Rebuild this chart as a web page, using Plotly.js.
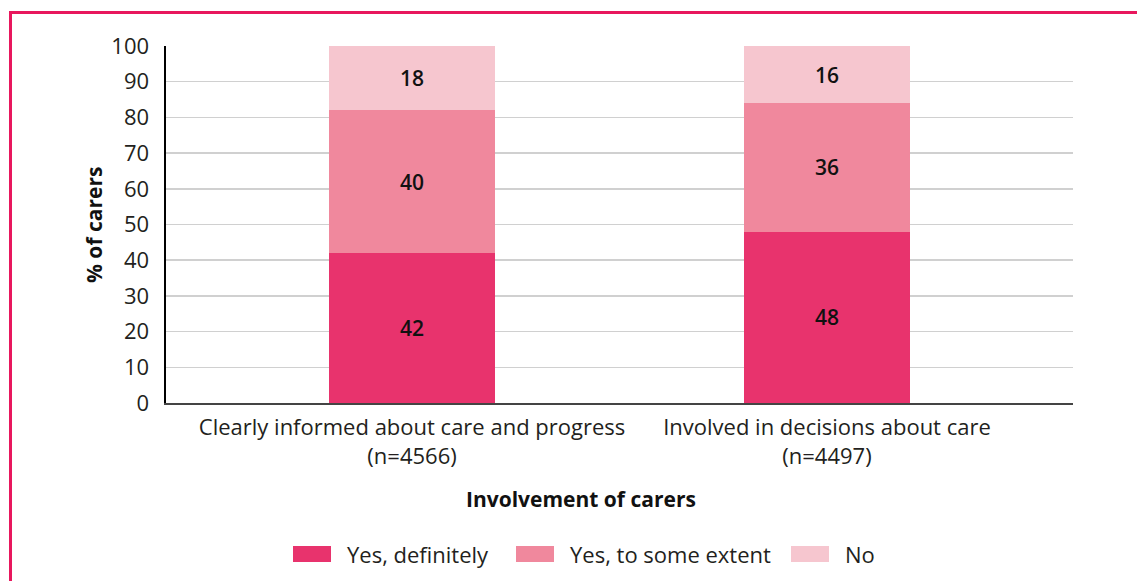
<!DOCTYPE html>
<html><head><meta charset="utf-8">
<script src="https://cdn.plot.ly/plotly-3.0.1.min.js"></script>
<style>
html,body{margin:0;padding:0;background:#fff;overflow:hidden;}
#frame{position:absolute;left:9px;top:11px;width:1300px;height:800px;border:3px solid #E8175D;box-sizing:border-box;}
#chart{position:absolute;left:0;top:0;width:1137px;height:581px;}
</style></head>
<body>
<div id="frame"></div>
<div id="chart"></div>
<script>
const categories = ["Clearly informed about care and progress<br>(n=4566)", "Involved in decisions about care<br>(n=4497)"];
const seriesNames = ["Yes, definitely", "Yes, to some extent", "No"];
const yesDefinitely = [42, 48];
const yesSomeExtent = [40, 36];
const no = [18, 16];
const colors = ["#E8336D", "#F0889D", "#F6C6CF"];
const seriesValues = [yesDefinitely, yesSomeExtent, no];

const FONT = '"Open Sans", sans-serif';
const xIdx = categories.map((c, i) => i);

const traces = seriesValues.map((vals, k) => ({
  type: 'bar', x: xIdx, y: vals, name: seriesNames[k],
  marker: {color: colors[k], line: {width: 0}},
  width: 0.4,
  text: vals.map(String), textposition: 'inside', insidetextanchor: 'middle',
  constraintext: 'none',
  textfont: {family: FONT, size: 21, color: '#111', weight: 600},
  hoverinfo: 'skip', showlegend: false
}));

// custom legend (layout shapes + annotations)
const L = 166, W = 907, T = 46, H = 357;
const px = x => (x - L) / W;
const py = y => (T + H - y) / H;
const swatchX = [293, 516, 791];
const shapes = [];
const annotations = [];
seriesNames.forEach((n, k) => {
  shapes.push({type: 'rect', xref: 'paper', yref: 'paper',
    x0: px(swatchX[k]), x1: px(swatchX[k] + 38), y0: py(562), y1: py(546),
    fillcolor: colors[k], line: {width: 0}});
  annotations.push({xref: 'paper', yref: 'paper', x: px(swatchX[k] + 52), y: py(554),
    xanchor: 'left', yanchor: 'middle', showarrow: false, text: n,
    font: {family: FONT, size: 22, color: '#231F20'}});
});
annotations.push({xref: 'paper', yref: 'paper', x: px(581), y: py(499),
  xanchor: 'center', yanchor: 'middle', showarrow: false,
  text: '<b>Involvement of carers</b>', font: {family: FONT, size: 21, color: '#111'}});
annotations.push({xref: 'paper', yref: 'paper', x: px(94), y: py(225),
  xanchor: 'center', yanchor: 'middle', showarrow: false, textangle: -90,
  text: '<b>% of carers</b>', font: {family: FONT, size: 21, color: '#111'}});

const layout = {
  width: 1137, height: 581,
  margin: {l: 166, r: 64, t: 46, b: 178},
  paper_bgcolor: 'rgba(0,0,0,0)', plot_bgcolor: 'rgba(0,0,0,0)',
  barmode: 'stack',
  font: {family: FONT, color: '#231F20'},
  xaxis: {
    range: [-0.593, 1.593], tickvals: xIdx, ticktext: categories,
    showgrid: false, zeroline: false, showline: true, linecolor: '#444', linewidth: 1.5,
    ticks: '', ticklabelstandoff: 4, tickfont: {family: FONT, size: 22, color: '#231F20'},
    fixedrange: true
  },
  yaxis: {
    range: [0, 100], dtick: 10, showgrid: true, gridcolor: '#D0D0D0', gridwidth: 1.5,
    zeroline: false, showline: true, linecolor: '#000', linewidth: 2.5,
    ticks: '', ticklabelstandoff: 10,
    tickfont: {family: FONT, size: 22, color: '#231F20'},
    fixedrange: true
  },
  shapes: shapes, annotations: annotations,
  showlegend: false
};

Plotly.newPlot('chart', traces, layout, {displayModeBar: false, staticPlot: true});
</script>
</body></html>
